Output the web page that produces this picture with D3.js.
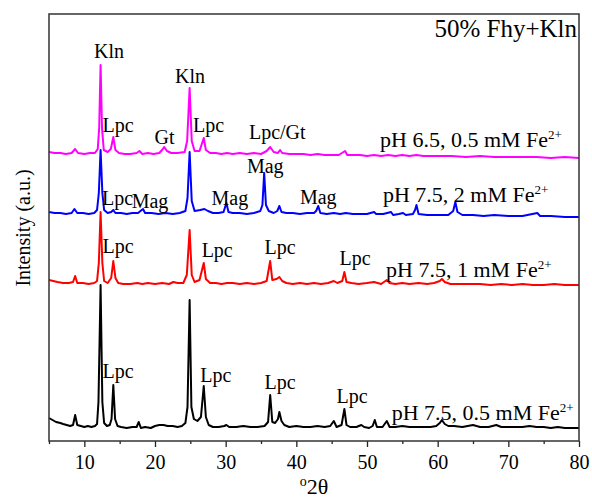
<!DOCTYPE html>
<html>
<head>
<meta charset="utf-8">
<script src="https://cdn.jsdelivr.net/npm/d3@7"></script>
<style>
  body { margin: 0; background: #fff; }
  svg text { font-family: "Liberation Serif", "Times New Roman", serif; fill: #000; }
</style>
</head>
<body>
<svg id="chart" width="592" height="499"></svg>
<script>
// XRD patterns, [2theta, intensity], intensity relative to each trace baseline
var blackPattern = [[5,9],[5.5,7],[6,5],[6.6,4],[7,3],[7.5,2],[8,1],[8.4,2],[8.7,12],[9.0,2],[9.5,1],[10,0],[10.5,1],[11,0],[11.5,1],[11.8,3],[12.0,25],[12.3,142],[12.55,25],[12.8,4],[13.2,1],[13.6,2],[13.85,8],[14.1,42],[14.35,8],[14.7,1],[15.2,0],[16,-1],[16.8,0],[17.4,0],[17.7,5],[18.0,-1],[18.6,0],[19.4,-1],[20,1],[20.6,2],[21.2,2],[21.8,1],[22.5,1],[23.2,0],[23.8,1],[24.3,4],[24.6,20],[24.9,127],[25.15,20],[25.5,8],[26,6],[26.5,10],[26.9,41],[27.2,10],[27.6,2],[28.2,0],[29,0],[29.8,1],[30.1,2],[30.5,0],[31.5,0],[32.5,1],[33.5,0],[34.5,0],[35.5,1],[36.0,5],[36.3,32],[36.6,5],[37.0,4],[37.4,8],[37.6,15],[37.9,6],[38.3,2],[39,0],[40,1],[41,0],[42,0],[43,1],[44,0],[44.8,1],[45.3,6],[45.7,0],[46.4,2],[46.8,18],[47.1,2],[47.6,0],[48.5,0],[49.2,2],[49.6,0],[50.3,-1],[50.8,1],[51.1,7],[51.4,0],[52.2,0],[52.8,6],[53.2,0],[54,0],[55,1],[56,0],[57,0],[58,0],[59,0],[59.8,1],[60.3,4],[60.6,7],[61.0,3],[61.5,1],[62.3,1],[63.5,0],[65,2],[66,0],[67.2,0],[68.3,2],[69,0],[70.5,0],[72,0],[73,1],[74,0],[75,0],[76,-1],[77,0],[78,-1],[79,-1],[80,-1]];

var redPattern = [[5,3],[5.6,2],[6.2,1],[7,0],[7.8,0],[8.4,1],[8.7,7],[9.0,0],[9.8,0],[10.6,-1],[11.4,0],[11.8,2],[12.05,20],[12.3,71],[12.55,20],[12.8,2],[13.3,0],[13.8,5],[14.1,22],[14.4,5],[14.8,0],[15.5,-1],[16.5,-1],[17.5,0],[18.2,-1],[19,0],[20,-1],[21,0],[22,-1],[22.6,1],[23.2,0],[24,0],[24.5,8],[24.9,53],[25.2,8],[25.6,1],[26.3,3],[26.9,20],[27.2,4],[27.8,0],[28.6,0],[29.4,-1],[30.2,0],[31,0],[32,-1],[33,0],[34,-1],[35,0],[35.8,2],[36.3,22],[36.6,3],[37.2,4],[37.6,6],[38,2],[38.6,0],[39.5,-1],[40.5,0],[41.5,-1],[42.5,0],[43.5,-1],[44.5,0],[45.3,2],[45.8,0],[46.5,2],[46.8,11],[47.1,1],[47.8,0],[48.8,-1],[50,0],[51,1],[52,-1],[52.8,3],[53.2,0],[54,-1],[55,0],[56,-1],[57.3,0],[58.5,-1],[59.5,0],[60.3,2],[60.6,4],[61,1],[61.8,-1],[63,-1],[64.5,-1],[66,-1],[67.5,-2],[69,-1],[70.5,-2],[72,-1],[73.5,-2],[75,-2],[76.5,-1],[78,-2],[80,-2]];

var bluePattern = [[5,1],[5.8,0],[6.6,0],[7.4,-1],[8.2,0],[8.6,4],[9.0,0],[9.8,0],[10.6,-1],[11.4,0],[11.8,3],[12.05,20],[12.3,63],[12.55,20],[12.8,3],[13.3,0],[13.8,1],[14.1,3],[14.4,0],[15.2,0],[16,-1],[16.8,0],[17.6,0],[18.3,4],[18.6,0],[19.5,0],[20.5,-1],[21.5,0],[22.5,-1],[23.5,0],[24.3,2],[24.6,15],[24.9,61],[25.2,12],[25.6,2],[26.4,3],[27,4],[27.5,2],[28.2,0],[29,0],[29.7,1],[30.1,10],[30.4,1],[31,0],[32,0],[33,-1],[34,0],[34.9,2],[35.2,8],[35.45,40],[35.7,8],[36.1,2],[36.8,0],[37.3,2],[37.6,7],[37.9,1],[38.6,0],[39.5,0],[40.5,-1],[41.5,0],[42.5,0],[42.8,2],[43.1,7],[43.4,0],[44.3,-1],[45.3,0],[46.2,-1],[47,0],[48,-1],[49,-1],[50,-1],[51,1],[51.3,-1],[52.3,-1],[53.4,1],[53.7,-2],[54.5,-1],[55.1,0],[55.5,-2],[56.5,-1],[56.8,3],[57.0,8],[57.3,-1],[58.5,-2],[60,-2],[61.5,-2],[62.2,2],[62.5,11],[62.8,1],[63.5,-2],[65,-2],[66.5,-3],[68,-2],[70,-3],[72,-3],[74.1,0],[74.5,-3],[76,-3],[78,-4],[80,-4]];

var magentaPattern = [[5,1],[5.8,0],[6.6,0],[7.4,-1],[8.2,0],[8.7,4],[9.1,0],[10,-1],[10.8,0],[11.5,0],[11.9,4],[12.1,25],[12.3,88],[12.5,25],[12.75,3],[13.3,1],[13.75,4],[14.1,16],[14.4,3],[14.9,0],[15.7,-1],[16.5,-1],[17.4,0],[17.8,2],[18.2,-1],[19,0],[19.8,-1],[20.6,0],[21.0,3],[21.3,6],[21.7,2],[22.3,0],[23.2,0],[24.2,1],[24.55,12],[24.9,65],[25.2,12],[25.6,2],[26.3,2],[26.9,15],[27.2,3],[27.8,0],[28.6,0],[29.4,-1],[30.2,0],[31,-1],[32,0],[33,-1],[34,0],[35,-1],[35.8,2],[36.3,6],[36.8,1],[37.4,0],[37.7,3],[38,0],[39,-1],[40,-1],[41,-1],[42,-2],[43,-1],[44,-2],[45,-2],[46,-2],[46.9,2],[47.2,-2],[48,-2],[49,-2],[50,-3],[51,-2],[52,-3],[53,-2],[54,-3],[55,-2],[56,-3],[57,-2],[58,-3],[60,-3],[62,-3],[64,-4],[66,-3],[68,-4],[70,-4],[72,-4],[74,-4],[76,-5],[78,-4],[80,-5]];

// vertical stacking offsets (same units as intensity)
var traceOffsets = [14, 158, 228, 288];
var traceColors = ["#000000", "#ff0000", "#0000ff", "#ff00ff"];
var traceLabels = ["pH 7.5, 0.5 mM Fe", "pH 7.5, 1 mM Fe", "pH 7.5, 2 mM Fe", "pH 6.5, 0.5 mM Fe"];

var majorTicks = [10, 20, 30, 40, 50, 60, 70, 80];
var minorTicks = [5, 15, 25, 35, 45, 55, 65, 75];

// phase labels: text, 2theta, intensity (stacked scale)
var phaseLabels = [
  ["Kln", 13.5, 383], ["Kln", 24.95, 358], ["Lpc", 14.76, 309], ["Gt", 21.35, 297],
  ["Lpc", 27.57, 309], ["Lpc/Gt", 37.3, 302],
  ["Lpc", 14.7, 236], ["Mag", 19.3, 233], ["Mag", 30.6, 236], ["Mag", 35.6, 268], ["Mag", 43.1, 237],
  ["Lpc", 14.76, 188], ["Lpc", 28.8, 184], ["Lpc", 37.7, 187], ["Lpc", 48.3, 176],
  ["Lpc", 14.76, 63], ["Lpc", 28.6, 59], ["Lpc", 37.7, 52], ["Lpc", 47.9, 38]
];
// condition label anchor (2theta, intensity) per trace
var conditionPos = [[53.5, 21], [52.7, 164], [52.26, 239], [51.84, 294]];

var margin = {top: 14, right: 13, bottom: 58, left: 49};
var width = 592 - margin.left - margin.right;
var height = 499 - margin.top - margin.bottom;

var svg = d3.select("#chart");
var g = svg.append("g").attr("transform", "translate(" + margin.left + "," + margin.top + ")");

var x = d3.scaleLinear().domain([5, 80]).range([0, width]);
var y = d3.scaleLinear().domain([0, height]).range([height, 0]);

var patterns = [blackPattern, redPattern, bluePattern, magentaPattern];

function drawTrace(data, i) {
  var line = d3.line()
    .x(function(d){ return x(d[0]); })
    .y(function(d){ return y(d[1] + traceOffsets[i]); });
  g.append("path")
    .datum(data)
    .attr("d", line)
    .attr("fill", "none")
    .attr("stroke", traceColors[i])
    .attr("stroke-width", 2)
    .attr("stroke-linejoin", "round");
}

for (var i = 0; i < patterns.length; i++) {
  drawTrace(patterns[i], i);
}

// axes
var xMajor = d3.axisBottom(x).tickValues(majorTicks).tickSize(6).tickSizeOuter(0);
var xMinor = d3.axisBottom(x).tickValues(minorTicks).tickSize(3).tickSizeOuter(0).tickFormat("");

var gx = g.append("g").attr("transform", "translate(0," + height + ")").call(xMajor);
gx.selectAll("text").attr("font-size", 20).attr("y", 28).attr("dy", 0)
  .style("font-family", '"Liberation Serif", serif');
g.append("g").attr("transform", "translate(0," + height + ")").call(xMinor);
g.selectAll(".domain").remove();
g.selectAll(".tick line").attr("stroke", "#222").attr("stroke-width", 1.3);

// frame
g.append("rect")
  .attr("width", width).attr("height", height)
  .attr("fill", "none").attr("stroke", "#333").attr("stroke-width", 1.5);

// phase labels
g.selectAll(".phase").data(phaseLabels).enter().append("text")
  .attr("class", "phase")
  .attr("x", function(d){ return x(d[1]); })
  .attr("y", function(d){ return y(d[2]); })
  .attr("text-anchor", "middle")
  .attr("font-size", 20)
  .text(function(d){ return d[0]; });

// condition labels
for (var k = 0; k < traceLabels.length; k++) {
  var t = g.append("text")
    .attr("x", x(conditionPos[k][0]))
    .attr("y", y(conditionPos[k][1]))
    .attr("font-size", 22)
    .text(traceLabels[k]);
  t.append("tspan").attr("dy", -8).attr("font-size", 13).text("2+");
}

g.append("text")
  .attr("x", width - 2).attr("y", 23)
  .attr("text-anchor", "end")
  .attr("font-size", 25)
  .text("50% Fhy+Kln");

// axis titles
var xt = svg.append("text")
  .attr("x", margin.left + width / 2).attr("y", 494)
  .attr("text-anchor", "middle")
  .attr("font-size", 22);
xt.append("tspan").attr("font-size", 14).attr("dy", -8).text("o");
xt.append("tspan").attr("dy", 8).text("2θ");

svg.append("text")
  .attr("transform", "translate(30,228) rotate(-90)")
  .attr("text-anchor", "middle")
  .attr("font-size", 20)
  .text("Intensity (a.u.)");
</script>
</body>
</html>
